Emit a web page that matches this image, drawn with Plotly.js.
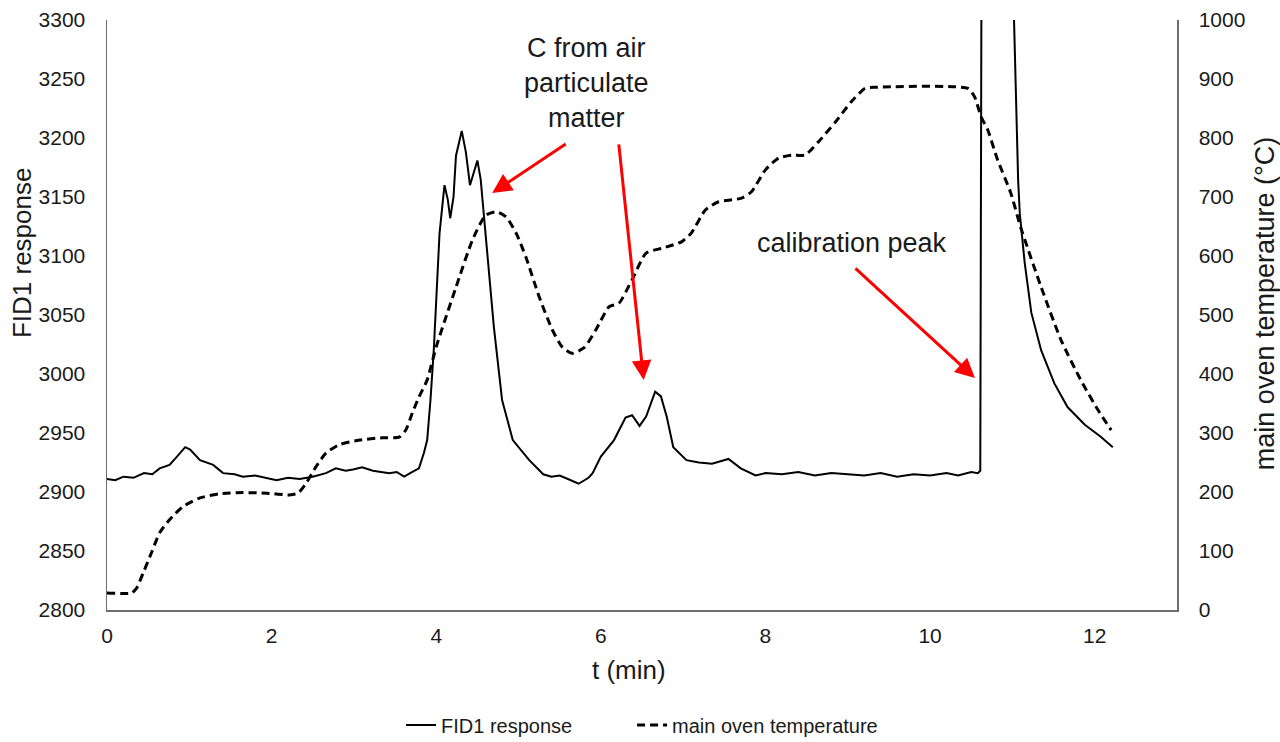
<!DOCTYPE html>
<html>
<head>
<meta charset="utf-8">
<script src="https://cdn.plot.ly/plotly-3.0.1.min.js"></script>
<style>
  html, body { margin: 0; padding: 0; background: #fff; }
  #chart { width: 1280px; height: 742px; }
</style>
</head>
<body>
<div id="chart"></div>
<script>
// FID1 response (left axis)
const fidTime = [0.00,0.10,0.20,0.32,0.45,0.55,0.64,0.76,0.85,0.95,1.01,1.13,1.29,1.41,1.55,1.65,1.80,1.95,2.06,2.20,2.34,2.50,2.66,2.78,2.90,2.99,3.10,3.23,3.35,3.43,3.52,3.61,3.71,3.79,3.85,3.89,3.93,3.97,4.04,4.10,4.14,4.17,4.21,4.24,4.31,4.36,4.41,4.46,4.50,4.54,4.58,4.66,4.70,4.80,4.93,5.13,5.30,5.40,5.50,5.60,5.73,5.85,5.90,6.00,6.16,6.30,6.38,6.47,6.55,6.66,6.73,6.80,6.88,7.04,7.19,7.35,7.55,7.70,7.88,8.00,8.20,8.40,8.60,8.80,9.00,9.20,9.40,9.60,9.80,10.00,10.20,10.34,10.50,10.58,10.61,10.63,10.98,11.02,11.07,11.09,11.15,11.23,11.35,11.51,11.67,11.88,12.07,12.22];
const fidValue = [2911,2910,2913,2912,2916,2915,2920,2923,2930,2938,2936,2927,2923,2916,2915,2913,2914,2912,2910,2912,2911,2913,2916,2920,2918,2919,2921,2918,2917,2916,2917,2913,2917,2920,2933,2944,2978,3020,3119,3160,3148,3132,3150,3185,3206,3188,3160,3172,3181,3165,3135,3074,3040,2978,2944,2927,2915,2913,2914,2911,2907,2912,2916,2930,2944,2963,2965,2956,2964,2985,2981,2964,2938,2927,2925,2924,2928,2920,2914,2916,2915,2917,2914,2916,2915,2914,2916,2913,2915,2914,2916,2914,2917,2916,2918,3500,3500,3300,3164,3136,3094,3052,3020,2992,2972,2957,2947,2938];

// main oven temperature (right axis, °C)
const tempTime = [0.00,0.30,0.36,0.44,0.54,0.64,0.76,0.92,1.13,1.37,1.65,1.94,2.22,2.32,2.42,2.54,2.66,2.82,3.07,3.35,3.55,3.63,3.71,3.79,3.89,4.00,4.24,4.44,4.60,4.73,4.85,4.97,5.09,5.25,5.41,5.53,5.65,5.80,5.94,6.10,6.22,6.38,6.55,6.74,6.98,7.10,7.27,7.43,7.71,7.83,8.00,8.16,8.32,8.48,8.64,8.85,9.04,9.21,9.33,10.46,10.54,10.62,10.70,10.82,10.98,11.10,11.35,11.59,11.83,12.04,12.20];
const tempValue = [29,29,37,63,97,131,153,175,190,197,199,198,195,198,215,243,266,280,288,292,293,305,334,361,390,446,547,627,669,675,666,639,598,531,475,446,435,445,475,514,520,560,605,613,624,639,678,692,698,709,746,766,771,771,793,827,861,884,886,884,870,836,814,763,707,649,547,458,390,339,305];

const seriesNames = ['FID1 response', 'main oven temperature'];
const xTickVals = [0, 2, 4, 6, 8, 10, 12];
const axisTitles = ['t (min)', 'FID1 response', 'main oven temperature (°C)'];
const annotationTexts = ['C from air<br>particulate<br>matter', 'calibration peak'];

const FONT = '"Liberation Sans", Arial, sans-serif';
const TXT = '#1a1a1a';
const AXC = '#6e6e6e';

const traces = [
  {
    x: fidTime, y: fidValue, name: seriesNames[0], type: 'scatter', mode: 'lines',
    line: { color: '#000', width: 2 }, yaxis: 'y', legend: 'legend'
  },
  {
    x: tempTime, y: tempValue, name: seriesNames[1], type: 'scatter', mode: 'lines',
    line: { color: '#000', width: 3, dash: '8px,5px', shape: 'spline', smoothing: 0.6 }, yaxis: 'y2', legend: 'legend2'
  }
];

const axisCommon = {
  showgrid: false, zeroline: false, showline: true, linecolor: AXC, linewidth: 1.5,
  tickcolor: 'rgba(0,0,0,0)', tickfont: { family: FONT, size: 21, color: TXT }, automargin: false
};

const legendCommon = {
  orientation: 'h', xref: 'container', yref: 'container',
  xanchor: 'left', y: 0.023, yanchor: 'middle',
  font: { family: FONT, size: 20, color: TXT }
};

const layout = {
  width: 1280, height: 742,
  margin: { l: 107, r: 103, t: 20, b: 132 },
  paper_bgcolor: '#fff', plot_bgcolor: '#fff',
  font: { family: FONT, color: TXT, size: 21 },
  showlegend: true,
  legend: Object.assign({}, legendCommon, { x: 0.3133 }),
  legend2: Object.assign({}, legendCommon, { x: 0.4938 }),
  xaxis: Object.assign({}, axisCommon, {
    range: [0, 13], tickvals: xTickVals, ticktext: xTickVals.map(String),
    ticks: 'outside', ticklen: 6
  }),
  yaxis: Object.assign({}, axisCommon, {
    range: [2800, 3300], dtick: 50, tick0: 2800, ticks: 'outside', ticklen: 16
  }),
  yaxis2: Object.assign({}, axisCommon, {
    range: [0, 1000], dtick: 100, tick0: 0, overlaying: 'y', side: 'right',
    ticks: 'outside', ticklen: 16
  }),
  annotations: [
    { xref: 'paper', yref: 'paper', x: 0.4879, y: -0.1017, text: axisTitles[0], showarrow: false,
      font: { family: FONT, size: 26, color: TXT }, xanchor: 'center', yanchor: 'middle' },
    { xref: 'paper', yref: 'paper', x: -0.0794, y: 0.605, text: axisTitles[1], showarrow: false, textangle: -90,
      font: { family: FONT, size: 26, color: TXT }, xanchor: 'center', yanchor: 'middle' },
    { xref: 'paper', yref: 'paper', x: 1.0822, y: 0.52, text: axisTitles[2], showarrow: false, textangle: -90,
      font: { family: FONT, size: 27, color: TXT }, xanchor: 'center', yanchor: 'middle' },
    { xref: 'x', yref: 'y', x: 5.83, y: 3246.6, text: annotationTexts[0], showarrow: false,
      font: { family: FONT, size: 27, color: TXT }, align: 'center', xanchor: 'center', yanchor: 'middle' },
    { xref: 'x', yref: 'y', x: 9.055, y: 3111, text: annotationTexts[1], showarrow: false,
      font: { family: FONT, size: 27, color: TXT }, xanchor: 'center', yanchor: 'middle' },
    { xref: 'x', yref: 'y', x: 4.68, y: 3153.4, text: '', showarrow: true, ax: 75, ay: -50,
      arrowcolor: '#ff0000', arrowwidth: 3, arrowhead: 2, arrowsize: 1.3, standoff: 0 },
    { xref: 'x', yref: 'y', x: 6.52, y: 2995, text: '', showarrow: true, ax: -25, ay: -237,
      arrowcolor: '#ff0000', arrowwidth: 3, arrowhead: 2, arrowsize: 1.3, standoff: 0 },
    { xref: 'x', yref: 'y', x: 10.545, y: 2996.6, text: '', showarrow: true, ax: -121, ay: -111,
      arrowcolor: '#ff0000', arrowwidth: 3, arrowhead: 2, arrowsize: 1.3, standoff: 0 }
  ]
};

Plotly.newPlot('chart', traces, layout, { staticPlot: true, displayModeBar: false, responsive: false });
</script>
</body>
</html>
